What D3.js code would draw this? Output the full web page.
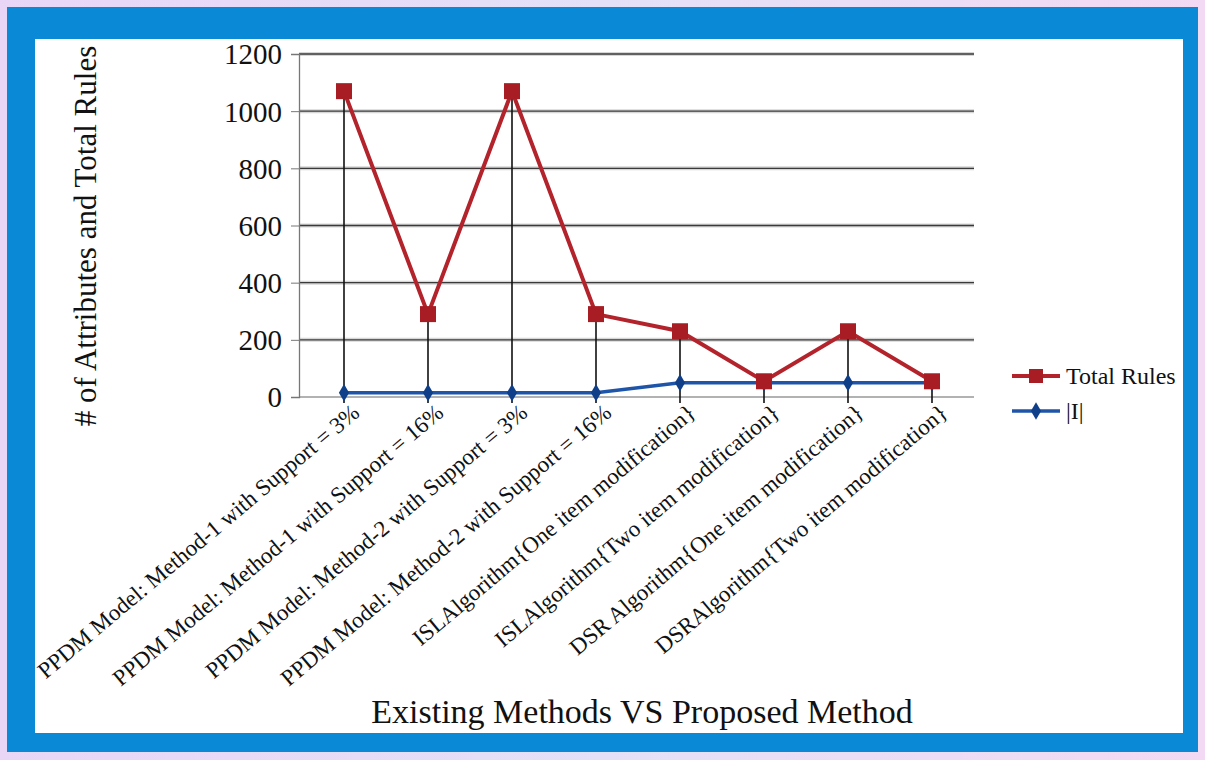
<!DOCTYPE html>
<html><head><meta charset="utf-8">
<script src="https://cdn.jsdelivr.net/npm/d3@7/dist/d3.min.js"></script>
<style>
html,body{margin:0;padding:0;}
body{width:1205px;height:760px;overflow:hidden;background:linear-gradient(90deg,#e9d6f7,#e4e0f8 50%,#f3d9f3);}
svg{display:block;}
</style></head>
<body>
<svg id="c" width="1205" height="760"></svg>
<script>
const categories = [
  "PPDM Model: Method-1 with Support = 3%",
  "PPDM Model: Method-1 with Support = 16%",
  "PPDM Model: Method-2 with Support = 3%",
  "PPDM Model: Method-2 with Support = 16%",
  "ISLAlgorithm{One item modification}",
  "ISLAlgorithm{Two item modification}",
  "DSR Algorithm{One item modification}",
  "DSRAlgorithm{Two item modification}"
];
const totalRules = [1070, 290, 1070, 290, 230, 55, 230, 55];
const iSize = [15, 15, 15, 15, 50, 50, 50, 50];
const yTicks = [0, 200, 400, 600, 800, 1000, 1200];
const seriesNames = ["Total Rules", "|I|"];

(function(){
const svg = d3.select("#c");
const font = "'Liberation Serif','Times New Roman',serif";
// frame
svg.append("rect").attr("x",7).attr("y",7).attr("width",1191).attr("height",745).attr("fill","#0a8ad6");
svg.append("rect").attr("x",35).attr("y",39).attr("width",1148).attr("height",694).attr("fill","#ffffff");

const pl = 302, pr = 974, pt = 54, pb = 397;
const ax = 299;
const x = d3.scaleBand().domain(categories).range([pl, pr]);
const y = d3.scaleLinear().domain([0, 1200]).range([pb, pt]);
const cx = d => x(d) + x.bandwidth()/2;

const g = svg.append("g");
// gridlines
yTicks.filter(t => t > 0).forEach(t => {
  g.append("line").attr("x1", ax).attr("x2", pr).attr("y1", y(t)).attr("y2", y(t))
    .attr("stroke", "#bbb").attr("stroke-width", 4).attr("opacity",0.6);
  g.append("line").attr("x1", ax).attr("x2", pr).attr("y1", y(t)).attr("y2", y(t))
    .attr("stroke", "#3a3a3a").attr("stroke-width", 1.4);
});
// x axis line
g.append("line").attr("x1", ax).attr("x2", pr).attr("y1", y(0)).attr("y2", y(0))
  .attr("stroke", "#999").attr("stroke-width", 1.5);
// y axis
const yAxis = d3.axisLeft(y).tickValues(yTicks).tickFormat(d3.format("d")).tickSize(8).tickPadding(9);
const ya = svg.append("g").attr("transform", `translate(${ax},0)`).call(yAxis);
ya.select(".domain").attr("stroke", "#777").attr("stroke-width", 1.3);
ya.selectAll(".tick line").attr("stroke", "#777");
ya.selectAll("text").attr("font-family", font).attr("font-size", 29).attr("fill", "#111").attr("dy","0.34em");

// drop lines
categories.forEach((c, i) => {
  const hi = Math.max(totalRules[i], iSize[i]);
  g.append("line").attr("x1", cx(c)).attr("x2", cx(c)).attr("y1", y(hi)).attr("y2", y(0)+6)
    .attr("stroke", "#111").attr("stroke-width", 1.6);
});

const lineI = d3.line().x((d,i) => cx(categories[i])).y(d => y(d));
// blue series
g.append("path").datum(iSize).attr("d", lineI).attr("fill","none")
  .attr("stroke","#1f55a8").attr("stroke-width",3.5);
g.selectAll(".dia").data(iSize).enter().append("path")
  .attr("d", d3.symbol().type(d3.symbolDiamond).size(90))
  .attr("transform", (d,i) => `translate(${cx(categories[i])},${y(d)})`)
  .attr("fill","#103f8a");

// red series
g.append("path").datum(totalRules).attr("d", lineI).attr("fill","none")
  .attr("stroke","#b3232b").attr("stroke-width",4);
g.selectAll(".sq").data(totalRules).enter().append("rect")
  .attr("x", (d,i) => cx(categories[i]) - 8).attr("y", d => y(d) - 8)
  .attr("width", 16).attr("height", 16).attr("fill","#a81c24");

// x labels
categories.forEach((c) => {
  svg.append("text").attr("font-family", font).attr("font-size", 23).attr("fill","#111")
    .attr("text-anchor","end")
    .attr("transform", `translate(${cx(c)+17},${y(0)+18}) rotate(-40)`)
    .text(c);
});

// axis titles
svg.append("text").attr("font-family", font).attr("font-size", 31).attr("fill","#111")
  .attr("text-anchor","middle").attr("transform","translate(96,236) rotate(-90)")
  .text("# of Attributes and Total Rules");
svg.append("text").attr("font-family", font).attr("font-size", 34).attr("fill","#111")
  .attr("text-anchor","middle").attr("x", 642).attr("y", 723)
  .text("Existing Methods VS Proposed Method");

// legend
const lg = svg.append("g");
const ly = [376, 411];
lg.append("line").attr("x1",1012).attr("x2",1060).attr("y1",ly[0]).attr("y2",ly[0]).attr("stroke","#b3232b").attr("stroke-width",4);
lg.append("rect").attr("x",1029).attr("y",ly[0]-7).attr("width",14).attr("height",14).attr("fill","#a81c24");
lg.append("line").attr("x1",1012).attr("x2",1060).attr("y1",ly[1]).attr("y2",ly[1]).attr("stroke","#1f55a8").attr("stroke-width",3.5);
lg.append("path").attr("d", d3.symbol().type(d3.symbolDiamond).size(90)).attr("transform",`translate(1036,${ly[1]})`).attr("fill","#103f8a");
seriesNames.forEach((s,i) => {
  lg.append("text").attr("font-family", font).attr("font-size", 24).attr("fill","#111")
    .attr("x",1066).attr("y",ly[i]).attr("dy","0.35em").text(s);
});
})();
</script>
</body></html>
